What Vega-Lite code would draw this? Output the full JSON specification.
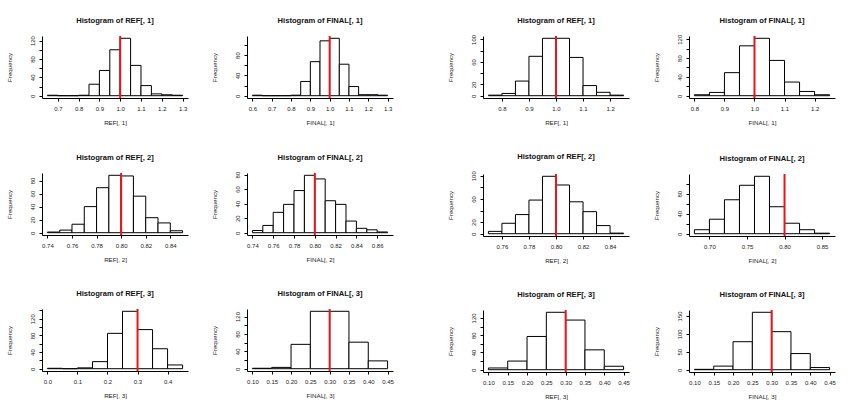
{
"$schema":"https://vega.github.io/schema/vega-lite/v6.json",
"background":"white",
"padding":{"left":5,"top":16,"right":5,"bottom":2},
"config":{
"font":"Liberation Sans",
"view":{"stroke":null},
"axis":{"grid":false,"domainColor":"#000","tickColor":"#000","labelColor":"#222","titleColor":"#222","labelFontSize":6,"titleFontSize":6.2,"titleFontWeight":"normal","tickSize":3,"labelFlush":false,"labelOverlap":false,"domainWidth":1,"tickWidth":1},
"axisX":{"labelPadding":4,"titlePadding":8},
"axisY":{"labelAngle":270,"labelAlign":"center","labelBaseline":"bottom","labelPadding":4,"titlePadding":17},
"title":{"fontSize":7.6,"fontWeight":"bold","offset":10,"anchor":"middle","frame":"group","color":"#111"}
},
"spacing":52,
"hconcat":[
{"columns":2,"spacing":{"row":27,"column":22},"concat":[
{"title":"Histogram of REF[, 1]","width":146,"height":62,"layer":[
{"data":{"values":[{"x":0.65,"x2":0.7,"n":1},{"x":0.7,"x2":0.75,"n":0},{"x":0.75,"x2":0.8,"n":0},{"x":0.8,"x2":0.85,"n":1},{"x":0.85,"x2":0.9,"n":25},{"x":0.9,"x2":0.95,"n":55},{"x":0.95,"x2":1.0,"n":100},{"x":1.0,"x2":1.05,"n":125},{"x":1.05,"x2":1.1,"n":66},{"x":1.1,"x2":1.15,"n":22},{"x":1.15,"x2":1.2,"n":4},{"x":1.2,"x2":1.25,"n":2},{"x":1.25,"x2":1.3,"n":1}]},
"mark":{"type":"bar","fill":"#fff","stroke":"#000","strokeWidth":1},
"encoding":{"x":{"field":"x","type":"quantitative","scale":{"domain":[0.624,1.326],"nice":false,"zero":false},"axis":{"title":"REF[, 1]","tickCount":30,"labelOverlap":false,"values":[0.7,0.8,0.9,1.0,1.1,1.2,1.3],"format":".1f"}},"x2":{"field":"x2"},
"y":{"field":"n","type":"quantitative","scale":{"domain":[-5,130],"nice":false,"zero":false},"axis":{"title":"Frequency","tickCount":30,"labelOverlap":false,"values":[0,20,40,60,80,100,120],"labelExpr":"datum.value % 40 == 0 ? datum.label : ''"}},"y2":{"datum":0}}},
{"data":{"values":[{"x":1.0}]},"mark":{"type":"rule","color":"#e8161b","strokeWidth":2},"encoding":{"x":{"field":"x","type":"quantitative"}}}]},
{"title":"Histogram of FINAL[, 1]","width":146,"height":62,"layer":[
{"data":{"values":[{"x":0.6,"x2":0.65,"n":1},{"x":0.65,"x2":0.7,"n":0},{"x":0.7,"x2":0.75,"n":0},{"x":0.75,"x2":0.8,"n":0},{"x":0.8,"x2":0.85,"n":1},{"x":0.85,"x2":0.9,"n":28},{"x":0.9,"x2":0.95,"n":67},{"x":0.95,"x2":1.0,"n":108},{"x":1.0,"x2":1.05,"n":113},{"x":1.05,"x2":1.1,"n":62},{"x":1.1,"x2":1.15,"n":18},{"x":1.15,"x2":1.2,"n":2},{"x":1.2,"x2":1.25,"n":2},{"x":1.25,"x2":1.3,"n":1}]},
"mark":{"type":"bar","fill":"#fff","stroke":"#000","strokeWidth":1},
"encoding":{"x":{"field":"x","type":"quantitative","scale":{"domain":[0.572,1.328],"nice":false,"zero":false},"axis":{"title":"FINAL[, 1]","tickCount":30,"labelOverlap":false,"values":[0.6,0.7,0.8,0.9,1.0,1.1,1.2,1.3],"format":".1f"}},"x2":{"field":"x2"},
"y":{"field":"n","type":"quantitative","scale":{"domain":[-4.52,117.52],"nice":false,"zero":false},"axis":{"title":"Frequency","tickCount":30,"labelOverlap":false,"values":[0,20,40,60,80,100],"labelExpr":"datum.value % 40 == 0 ? datum.label : ''"}},"y2":{"datum":0}}},
{"data":{"values":[{"x":1.0}]},"mark":{"type":"rule","color":"#e8161b","strokeWidth":2},"encoding":{"x":{"field":"x","type":"quantitative"}}}]},
{"title":"Histogram of REF[, 2]","width":146,"height":62,"layer":[
{"data":{"values":[{"x":0.74,"x2":0.75,"n":1},{"x":0.75,"x2":0.76,"n":4},{"x":0.76,"x2":0.77,"n":13},{"x":0.77,"x2":0.78,"n":40},{"x":0.78,"x2":0.79,"n":69},{"x":0.79,"x2":0.8,"n":88},{"x":0.8,"x2":0.81,"n":87},{"x":0.81,"x2":0.82,"n":56},{"x":0.82,"x2":0.83,"n":23},{"x":0.83,"x2":0.84,"n":15},{"x":0.84,"x2":0.85,"n":3}]},
"mark":{"type":"bar","fill":"#fff","stroke":"#000","strokeWidth":1},
"encoding":{"x":{"field":"x","type":"quantitative","scale":{"domain":[0.7356,0.8544],"nice":false,"zero":false},"axis":{"title":"REF[, 2]","tickCount":30,"labelOverlap":false,"values":[0.74,0.76,0.78,0.8,0.82,0.84],"format":".2f"}},"x2":{"field":"x2"},
"y":{"field":"n","type":"quantitative","scale":{"domain":[-3.52,91.52],"nice":false,"zero":false},"axis":{"title":"Frequency","tickCount":30,"labelOverlap":false,"values":[0,20,40,60,80]}},"y2":{"datum":0}}},
{"data":{"values":[{"x":0.8}]},"mark":{"type":"rule","color":"#e8161b","strokeWidth":2},"encoding":{"x":{"field":"x","type":"quantitative"}}}]},
{"title":"Histogram of FINAL[, 2]","width":146,"height":62,"layer":[
{"data":{"values":[{"x":0.74,"x2":0.75,"n":3},{"x":0.75,"x2":0.76,"n":10},{"x":0.76,"x2":0.77,"n":28},{"x":0.77,"x2":0.78,"n":39},{"x":0.78,"x2":0.79,"n":58},{"x":0.79,"x2":0.8,"n":79},{"x":0.8,"x2":0.81,"n":74},{"x":0.81,"x2":0.82,"n":44},{"x":0.82,"x2":0.83,"n":39},{"x":0.83,"x2":0.84,"n":16},{"x":0.84,"x2":0.85,"n":6},{"x":0.85,"x2":0.86,"n":4},{"x":0.86,"x2":0.87,"n":1}]},
"mark":{"type":"bar","fill":"#fff","stroke":"#000","strokeWidth":1},
"encoding":{"x":{"field":"x","type":"quantitative","scale":{"domain":[0.7348,0.8752],"nice":false,"zero":false},"axis":{"title":"FINAL[, 2]","tickCount":30,"labelOverlap":false,"values":[0.74,0.76,0.78,0.8,0.82,0.84,0.86],"format":".2f"}},"x2":{"field":"x2"},
"y":{"field":"n","type":"quantitative","scale":{"domain":[-3.16,82.16],"nice":false,"zero":false},"axis":{"title":"Frequency","tickCount":30,"labelOverlap":false,"values":[0,20,40,60,80]}},"y2":{"datum":0}}},
{"data":{"values":[{"x":0.8}]},"mark":{"type":"rule","color":"#e8161b","strokeWidth":2},"encoding":{"x":{"field":"x","type":"quantitative"}}}]},
{"title":"Histogram of REF[, 3]","width":146,"height":62,"layer":[
{"data":{"values":[{"x":0.0,"x2":0.05,"n":1},{"x":0.05,"x2":0.1,"n":0},{"x":0.1,"x2":0.15,"n":2},{"x":0.15,"x2":0.2,"n":17},{"x":0.2,"x2":0.25,"n":85},{"x":0.25,"x2":0.3,"n":138},{"x":0.3,"x2":0.35,"n":94},{"x":0.35,"x2":0.4,"n":48},{"x":0.4,"x2":0.45,"n":9}]},
"mark":{"type":"bar","fill":"#fff","stroke":"#000","strokeWidth":1},
"encoding":{"x":{"field":"x","type":"quantitative","scale":{"domain":[-0.018,0.468],"nice":false,"zero":false},"axis":{"title":"REF[, 3]","tickCount":30,"labelOverlap":false,"values":[0,0.1,0.2,0.3,0.4],"format":".1f"}},"x2":{"field":"x2"},
"y":{"field":"n","type":"quantitative","scale":{"domain":[-5.52,143.52],"nice":false,"zero":false},"axis":{"title":"Frequency","tickCount":30,"labelOverlap":false,"values":[0,20,40,60,80,100,120,140],"labelExpr":"datum.value % 40 == 0 ? datum.label : ''"}},"y2":{"datum":0}}},
{"data":{"values":[{"x":0.3}]},"mark":{"type":"rule","color":"#e8161b","strokeWidth":2},"encoding":{"x":{"field":"x","type":"quantitative"}}}]},
{"title":"Histogram of FINAL[, 3]","width":146,"height":62,"layer":[
{"data":{"values":[{"x":0.1,"x2":0.15,"n":1},{"x":0.15,"x2":0.2,"n":3},{"x":0.2,"x2":0.25,"n":56},{"x":0.25,"x2":0.3,"n":132},{"x":0.3,"x2":0.35,"n":132},{"x":0.35,"x2":0.4,"n":61},{"x":0.4,"x2":0.45,"n":18}]},
"mark":{"type":"bar","fill":"#fff","stroke":"#000","strokeWidth":1},
"encoding":{"x":{"field":"x","type":"quantitative","scale":{"domain":[0.086,0.464],"nice":false,"zero":false},"axis":{"title":"FINAL[, 3]","tickCount":30,"labelOverlap":false,"values":[0.1,0.15,0.2,0.25,0.3,0.35,0.4,0.45],"format":".2f"}},"x2":{"field":"x2"},
"y":{"field":"n","type":"quantitative","scale":{"domain":[-5.28,137.28],"nice":false,"zero":false},"axis":{"title":"Frequency","tickCount":30,"labelOverlap":false,"values":[0,20,40,60,80,100,120],"labelExpr":"datum.value % 40 == 0 ? datum.label : ''"}},"y2":{"datum":0}}},
{"data":{"values":[{"x":0.3}]},"mark":{"type":"rule","color":"#e8161b","strokeWidth":2},"encoding":{"x":{"field":"x","type":"quantitative"}}}]}
]},
{"columns":2,"spacing":{"row":27,"column":22},"concat":[
{"title":"Histogram of REF[, 1]","width":146,"height":62,"layer":[
{"data":{"values":[{"x":0.75,"x2":0.8,"n":1},{"x":0.8,"x2":0.85,"n":4},{"x":0.85,"x2":0.9,"n":26},{"x":0.9,"x2":0.95,"n":70},{"x":0.95,"x2":1.0,"n":102},{"x":1.0,"x2":1.05,"n":102},{"x":1.05,"x2":1.1,"n":68},{"x":1.1,"x2":1.15,"n":18},{"x":1.15,"x2":1.2,"n":6},{"x":1.2,"x2":1.25,"n":1}]},
"mark":{"type":"bar","fill":"#fff","stroke":"#000","strokeWidth":1},
"encoding":{"x":{"field":"x","type":"quantitative","scale":{"domain":[0.73,1.27],"nice":false,"zero":false},"axis":{"title":"REF[, 1]","tickCount":30,"labelOverlap":false,"values":[0.8,0.9,1.0,1.1,1.2],"format":".1f"}},"x2":{"field":"x2"},
"y":{"field":"n","type":"quantitative","scale":{"domain":[-4.08,106.08],"nice":false,"zero":false},"axis":{"title":"Frequency","tickCount":30,"labelOverlap":false,"values":[0,20,40,60,80,100],"labelExpr":"indexof([0,20,60,100], datum.value) >= 0 ? datum.label : ''"}},"y2":{"datum":0}}},
{"data":{"values":[{"x":1.0}]},"mark":{"type":"rule","color":"#e8161b","strokeWidth":2},"encoding":{"x":{"field":"x","type":"quantitative"}}}]},
{"title":"Histogram of FINAL[, 1]","width":146,"height":62,"layer":[
{"data":{"values":[{"x":0.8,"x2":0.85,"n":2},{"x":0.85,"x2":0.9,"n":7},{"x":0.9,"x2":0.95,"n":49},{"x":0.95,"x2":1.0,"n":106},{"x":1.0,"x2":1.05,"n":122},{"x":1.05,"x2":1.1,"n":75},{"x":1.1,"x2":1.15,"n":29},{"x":1.15,"x2":1.2,"n":9},{"x":1.2,"x2":1.25,"n":2}]},
"mark":{"type":"bar","fill":"#fff","stroke":"#000","strokeWidth":1},
"encoding":{"x":{"field":"x","type":"quantitative","scale":{"domain":[0.782,1.268],"nice":false,"zero":false},"axis":{"title":"FINAL[, 1]","tickCount":30,"labelOverlap":false,"values":[0.8,0.9,1.0,1.1,1.2],"format":".1f"}},"x2":{"field":"x2"},
"y":{"field":"n","type":"quantitative","scale":{"domain":[-4.88,126.88],"nice":false,"zero":false},"axis":{"title":"Frequency","tickCount":30,"labelOverlap":false,"values":[0,20,40,60,80,100,120],"labelExpr":"datum.value % 40 == 0 ? datum.label : ''"}},"y2":{"datum":0}}},
{"data":{"values":[{"x":1.0}]},"mark":{"type":"rule","color":"#e8161b","strokeWidth":2},"encoding":{"x":{"field":"x","type":"quantitative"}}}]},
{"title":"Histogram of REF[, 2]","width":146,"height":62,"layer":[
{"data":{"values":[{"x":0.75,"x2":0.76,"n":4},{"x":0.76,"x2":0.77,"n":18},{"x":0.77,"x2":0.78,"n":33},{"x":0.78,"x2":0.79,"n":58},{"x":0.79,"x2":0.8,"n":99},{"x":0.8,"x2":0.81,"n":84},{"x":0.81,"x2":0.82,"n":55},{"x":0.82,"x2":0.83,"n":38},{"x":0.83,"x2":0.84,"n":14},{"x":0.84,"x2":0.85,"n":1}]},
"mark":{"type":"bar","fill":"#fff","stroke":"#000","strokeWidth":1},
"encoding":{"x":{"field":"x","type":"quantitative","scale":{"domain":[0.746,0.854],"nice":false,"zero":false},"axis":{"title":"REF[, 2]","tickCount":30,"labelOverlap":false,"values":[0.76,0.78,0.8,0.82,0.84],"format":".2f"}},"x2":{"field":"x2"},
"y":{"field":"n","type":"quantitative","scale":{"domain":[-3.96,102.96],"nice":false,"zero":false},"axis":{"title":"Frequency","tickCount":30,"labelOverlap":false,"values":[0,20,40,60,80,100],"labelExpr":"indexof([0,20,60,100], datum.value) >= 0 ? datum.label : ''"}},"y2":{"datum":0}}},
{"data":{"values":[{"x":0.8}]},"mark":{"type":"rule","color":"#e8161b","strokeWidth":2},"encoding":{"x":{"field":"x","type":"quantitative"}}}]},
{"title":"Histogram of FINAL[, 2]","width":146,"height":62,"layer":[
{"data":{"values":[{"x":0.68,"x2":0.7,"n":8},{"x":0.7,"x2":0.72,"n":29},{"x":0.72,"x2":0.74,"n":68},{"x":0.74,"x2":0.76,"n":97},{"x":0.76,"x2":0.78,"n":115},{"x":0.78,"x2":0.8,"n":54},{"x":0.8,"x2":0.82,"n":21},{"x":0.82,"x2":0.84,"n":8},{"x":0.84,"x2":0.86,"n":1}]},
"mark":{"type":"bar","fill":"#fff","stroke":"#000","strokeWidth":1},
"encoding":{"x":{"field":"x","type":"quantitative","scale":{"domain":[0.6728,0.8672],"nice":false,"zero":false},"axis":{"title":"FINAL[, 2]","tickCount":30,"labelOverlap":false,"values":[0.7,0.75,0.8,0.85],"format":".2f"}},"x2":{"field":"x2"},
"y":{"field":"n","type":"quantitative","scale":{"domain":[-4.6,119.6],"nice":false,"zero":false},"axis":{"title":"Frequency","tickCount":30,"labelOverlap":false,"values":[0,20,40,60,80,100],"labelExpr":"datum.value % 40 == 0 ? datum.label : ''"}},"y2":{"datum":0}}},
{"data":{"values":[{"x":0.8}]},"mark":{"type":"rule","color":"#e8161b","strokeWidth":2},"encoding":{"x":{"field":"x","type":"quantitative"}}}]},
{"title":"Histogram of REF[, 3]","width":146,"height":62,"layer":[
{"data":{"values":[{"x":0.1,"x2":0.15,"n":4},{"x":0.15,"x2":0.2,"n":20},{"x":0.2,"x2":0.25,"n":77},{"x":0.25,"x2":0.3,"n":133},{"x":0.3,"x2":0.35,"n":115},{"x":0.35,"x2":0.4,"n":46},{"x":0.4,"x2":0.45,"n":8}]},
"mark":{"type":"bar","fill":"#fff","stroke":"#000","strokeWidth":1},
"encoding":{"x":{"field":"x","type":"quantitative","scale":{"domain":[0.086,0.464],"nice":false,"zero":false},"axis":{"title":"REF[, 3]","tickCount":30,"labelOverlap":false,"values":[0.1,0.15,0.2,0.25,0.3,0.35,0.4,0.45],"format":".2f"}},"x2":{"field":"x2"},
"y":{"field":"n","type":"quantitative","scale":{"domain":[-5.32,138.32],"nice":false,"zero":false},"axis":{"title":"Frequency","tickCount":30,"labelOverlap":false,"values":[0,20,40,60,80,100,120],"labelExpr":"datum.value % 40 == 0 ? datum.label : ''"}},"y2":{"datum":0}}},
{"data":{"values":[{"x":0.3}]},"mark":{"type":"rule","color":"#e8161b","strokeWidth":2},"encoding":{"x":{"field":"x","type":"quantitative"}}}]},
{"title":"Histogram of FINAL[, 3]","width":146,"height":62,"layer":[
{"data":{"values":[{"x":0.1,"x2":0.15,"n":1},{"x":0.15,"x2":0.2,"n":10},{"x":0.2,"x2":0.25,"n":78},{"x":0.25,"x2":0.3,"n":160},{"x":0.3,"x2":0.35,"n":106},{"x":0.35,"x2":0.4,"n":45},{"x":0.4,"x2":0.45,"n":6}]},
"mark":{"type":"bar","fill":"#fff","stroke":"#000","strokeWidth":1},
"encoding":{"x":{"field":"x","type":"quantitative","scale":{"domain":[0.086,0.464],"nice":false,"zero":false},"axis":{"title":"FINAL[, 3]","tickCount":30,"labelOverlap":false,"values":[0.1,0.15,0.2,0.25,0.3,0.35,0.4,0.45],"format":".2f"}},"x2":{"field":"x2"},
"y":{"field":"n","type":"quantitative","scale":{"domain":[-6.4,166.4],"nice":false,"zero":false},"axis":{"title":"Frequency","tickCount":30,"labelOverlap":false,"values":[0,50,100,150]}},"y2":{"datum":0}}},
{"data":{"values":[{"x":0.3}]},"mark":{"type":"rule","color":"#e8161b","strokeWidth":2},"encoding":{"x":{"field":"x","type":"quantitative"}}}]}
]}
]
}
